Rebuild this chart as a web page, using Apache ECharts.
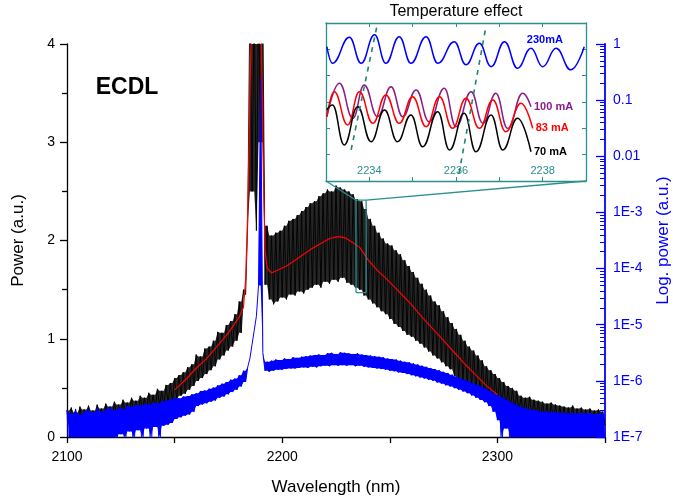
<!DOCTYPE html>
<html>
<head>
<meta charset="utf-8">
<script src="https://cdn.jsdelivr.net/npm/echarts@6/dist/echarts.min.js"></script>
<style>
  html, body { margin: 0; padding: 0; background: #fff; }
  #chart { width: 673px; height: 499px; }
</style>
</head>
<body>
<div id="chart"></div>
<script>
// ECDL emission spectrum: linear power (black, red smoothed) and log power (blue)
const wlStart = 2100, wlStep = 1;

// linear power, 1 nm sampling (fringe peaks / troughs)
const blackPower = [
  0.27,0.13,0.30,0.15,0.25,0.12,0.31,0.16,0.28,0.14,
  0.32,0.17,0.27,0.15,0.33,0.18,0.29,0.16,0.34,0.19,
  0.31,0.17,0.36,0.20,0.33,0.19,0.38,0.22,0.35,0.21,
  0.40,0.23,0.37,0.22,0.42,0.26,0.40,0.25,0.45,0.28,
  0.43,0.27,0.49,0.31,0.47,0.30,0.53,0.34,0.55,0.36,
  0.60,0.38,0.63,0.42,0.66,0.44,0.71,0.48,0.74,0.52,
  0.84,0.57,0.82,0.60,0.90,0.64,0.92,0.68,0.98,0.72,
  1.07,0.79,1.06,0.83,1.14,0.88,1.18,0.92,1.25,0.98,
  1.38,1.06,1.50,1.45,2.20,4.50,2.50,4.50,2.10,4.50,
  3.00,4.50,1.55,2.15,1.40,2.05,1.35,2.08,1.38,2.10,
  1.42,2.15,1.40,2.20,1.45,2.22,1.44,2.26,1.48,2.30,
  1.46,2.34,1.50,2.38,1.52,2.40,1.55,2.45,1.52,2.48,
  1.58,2.52,1.56,2.50,1.60,2.56,1.58,2.54,1.62,2.52,
  1.57,2.50,1.55,2.47,1.52,2.42,1.50,2.40,1.44,2.32,
  1.40,2.22,1.36,2.15,1.32,2.08,1.28,2.02,1.25,1.97,
  1.20,1.95,1.15,1.90,1.12,1.86,1.08,1.80,1.04,1.74,
  1.02,1.68,0.98,1.62,0.95,1.56,0.91,1.50,0.87,1.44,
  0.83,1.38,0.80,1.34,0.76,1.28,0.72,1.22,0.69,1.16,
  0.62,1.10,0.59,1.04,0.56,0.98,0.53,0.92,0.50,0.88,
  0.44,0.83,0.42,0.78,0.40,0.72,0.37,0.68,0.35,0.64,
  0.33,0.60,0.31,0.56,0.29,0.52,0.27,0.50,0.26,0.47,
  0.24,0.42,0.22,0.40,0.21,0.41,0.20,0.38,0.19,0.37,
  0.18,0.36,0.17,0.34,0.18,0.35,0.16,0.33,0.15,0.32,
  0.16,0.31,0.14,0.30,0.15,0.32,0.13,0.29,0.14,0.30,
  0.13,0.28,0.12,0.29,0.14,0.27,0.12,0.28,0.13,0.26,
  0.12
];

// log10 of power, same sampling
const blueLog10 = [
  -6.52,-7.40,-6.58,-7.40,-6.50,-7.40,-6.60,-7.40,-6.54,-7.40,
  -6.50,-7.40,-6.56,-7.40,-6.48,-7.40,-6.55,-7.40,-6.50,-7.40,
  -6.47,-7.40,-6.52,-7.40,-6.46,-6.95,-6.50,-7.40,-6.44,-6.90,
  -6.46,-7.40,-6.42,-6.88,-6.44,-7.40,-6.40,-6.85,-6.42,-7.40,
  -6.38,-6.82,-6.40,-7.40,-6.36,-6.80,-6.35,-6.78,-6.33,-6.75,
  -6.30,-6.68,-6.31,-6.65,-6.28,-6.62,-6.27,-6.60,-6.24,-6.55,
  -6.22,-6.45,-6.18,-6.42,-6.17,-6.40,-6.14,-6.37,-6.12,-6.35,
  -6.08,-6.30,-6.05,-6.28,-6.02,-6.24,-5.98,-6.20,-5.96,-6.16,
  -5.90,-6.10,-5.82,-6.02,-5.75,-5.60,-5.35,-5.10,-4.85,-4.30,
  -0.60,-5.50,-5.82,-5.66,-5.84,-5.64,-5.82,-5.62,-5.80,-5.63,
  -5.80,-5.60,-5.79,-5.61,-5.78,-5.58,-5.78,-5.59,-5.77,-5.57,
  -5.76,-5.56,-5.77,-5.55,-5.75,-5.54,-5.76,-5.53,-5.74,-5.54,
  -5.73,-5.51,-5.74,-5.50,-5.72,-5.52,-5.73,-5.49,-5.72,-5.50,
  -5.73,-5.51,-5.72,-5.52,-5.74,-5.51,-5.73,-5.53,-5.75,-5.54,
  -5.76,-5.55,-5.77,-5.56,-5.78,-5.57,-5.79,-5.58,-5.80,-5.60,
  -5.82,-5.61,-5.83,-5.62,-5.85,-5.64,-5.86,-5.66,-5.88,-5.67,
  -5.90,-5.69,-5.92,-5.71,-5.94,-5.73,-5.96,-5.75,-5.98,-5.77,
  -6.00,-5.79,-6.03,-5.81,-6.05,-5.84,-6.08,-5.86,-6.10,-5.89,
  -6.13,-5.92,-6.16,-5.95,-6.19,-5.98,-6.22,-6.01,-6.26,-6.04,
  -6.30,-6.07,-6.34,-6.10,-6.38,-6.14,-6.45,-6.18,-6.55,-6.22,
  -6.70,-6.26,-7.40,-6.30,-6.85,-6.34,-7.40,-6.38,-7.40,-6.42,
  -7.40,-6.46,-7.40,-6.48,-7.40,-6.50,-7.40,-6.52,-7.40,-6.53,
  -7.40,-6.55,-7.40,-6.54,-7.40,-6.56,-7.40,-6.55,-7.40,-6.57,
  -7.40,-6.56,-7.40,-6.58,-7.40,-6.57,-7.40,-6.58,-7.40,-6.56,
  -7.40,-6.58,-7.40,-6.57,-7.40,-6.59,-7.40,-6.58,-7.40,-6.57,
  -7.40
];

// smoothed linear power
const redWl = [2150,2155,2160,2165,2170,2175,2180,2182,2183,2184,2185,2186,2190,2191,2192,2193,2195,2198,2202,2206,2210,2214,2218,2222,2226,2229,2232,2236,2240,2244,2248,2252,2256,2260,2265,2270,2275,2280,2285,2290,2295,2300];
const redPower = [0.48,0.58,0.70,0.80,0.93,1.06,1.22,1.32,1.60,2.30,3.50,4.50,4.50,3.00,1.90,1.72,1.67,1.70,1.74,1.80,1.86,1.92,1.97,2.02,2.04,2.03,1.99,1.93,1.80,1.70,1.62,1.53,1.44,1.35,1.22,1.10,0.98,0.86,0.74,0.63,0.52,0.43];

// region magnified in the inset
const boxWl = [2234.3, 2239];
const boxPower = [1.47, 2.41];

// inset: fringe extrema for each drive current (relative log power)
const i230Wl  = [2233.02,2233.15,2233.54,2233.81,2234.12,2234.38,2234.69,2234.96,2235.31,2235.58,2235.96,2236.23,2236.54,2236.81,2237.12,2237.42,2237.73,2238.00,2238.31,2238.65,2238.96];
const i230Val = [5.10,4.47,5.46,4.47,5.55,4.47,5.48,4.47,5.48,4.47,5.29,4.41,5.23,4.34,5.29,4.28,5.04,4.34,5.04,4.22,5.10];
const i100Wl  = [2233.02,2233.31,2233.62,2233.88,2234.19,2234.50,2234.77,2235.08,2235.38,2235.73,2236.00,2236.35,2236.62,2236.92,2237.19,2237.54,2237.73];
const i100Val = [2.44,3.71,2.38,3.65,2.44,3.58,2.44,3.46,2.25,3.52,2.06,3.39,2.19,3.33,2.00,3.33,2.82];
const i83Wl   = [2233.02,2233.19,2233.50,2233.77,2234.08,2234.38,2234.69,2235.00,2235.31,2235.62,2235.92,2236.23,2236.54,2236.85,2237.15,2237.50,2237.77];
const i83Val  = [2.44,3.39,2.13,3.39,2.19,3.27,2.19,3.20,2.06,3.20,2.00,3.14,2.00,3.08,1.87,2.95,2.00];
const i70Wl   = [2233.02,2233.15,2233.42,2233.73,2234.04,2234.35,2234.65,2234.96,2235.23,2235.58,2235.85,2236.19,2236.46,2236.81,2237.08,2237.42,2237.73];
const i70Val  = [2.70,2.89,1.37,2.82,1.49,2.70,1.49,2.51,1.30,2.63,1.18,2.57,1.11,2.51,1.18,2.38,1.11];
// fringe shift guides
const shiftA = [[2233.58, 1.18], [2234.18, 5.92]];
const shiftB = [[2236.07, 0.30], [2236.69, 5.85]];

const FONT = "'Liberation Sans', Arial, sans-serif";
const TEAL = '#2b8f8f';
const DASH = '#1f8574';

const wlOf = i => wlStart + i * wlStep;
const blackData = blackPower.map((v, i) => [wlOf(i), v]);
const blueLin = blueLog10.map(v => Math.pow(10, v));
const blueData = blueLin.map((v, i) => [wlOf(i), v]);
const redData = redWl.map((w, i) => [w, redPower[i]]);
const boxData = [
  [boxWl[0], boxPower[0]], [boxWl[1], boxPower[0]], [boxWl[1], boxPower[1]],
  [boxWl[0], boxPower[1]], [boxWl[0], boxPower[0]]
];
const pairs = (xs, ys) => xs.map((x, i) => [x, ys[i]]);

// fringe envelope: each trough is raised to the lower of its two neighbouring
// peaks (and each peak lowered likewise), so isolated spikes stay thin
function envelope(arr) {
  const lo = [], hi = [];
  arr.forEach((v, i) => {
    const a = arr[i - 1] !== undefined ? arr[i - 1] : v;
    const b = arr[i + 1] !== undefined ? arr[i + 1] : v;
    hi.push(Math.max(v, Math.min(a, b)));
    lo.push(Math.min(v, Math.max(a, b)));
  });
  return { lo, hi };
}
const blackEnv = envelope(blackPower);
const blueEnv = envelope(blueLin);

// filled band between the envelopes, drawn through the axes of the main grid
function bandSeries(yIdx, env, range, color, z) {
  const clamp = v => Math.min(range[1], Math.max(range[0], v));
  return {
    type: 'custom', xAxisIndex: 0, yAxisIndex: yIdx, silent: true, z,
    data: [[wlOf(0), clamp(env.hi[0])]],
    renderItem: (params, api) => {
      const pts = [];
      env.hi.forEach((v, i) => pts.push(api.coord([wlOf(i), clamp(v)])));
      for (let i = env.lo.length - 1; i >= 0; i--) pts.push(api.coord([wlOf(i), clamp(env.lo[i])]));
      return { type: 'polygon', shape: { points: pts }, style: { fill: color } };
    }
  };
}

// minor ticks of the log axis, in decades
const minorDecades = [];
for (let e = -7; e < 0; e++) for (let k = 2; k <= 9; k++) minorDecades.push(e + Math.log10(k));

const chart = echarts.init(document.getElementById('chart'), null, { renderer: 'canvas' });

const insetLine = (name, xs, ys, color, label) => ({
  name, type: 'line', xAxisIndex: 1, yAxisIndex: 3,
  data: pairs(xs, ys), smooth: 0.45, smoothMonotone: 'x',
  symbol: 'none', lineStyle: { color, width: 1.5 }, z: 5,
  endLabel: label ? { show: true, formatter: label, color, fontWeight: 'bold',
    fontSize: 11, fontFamily: FONT, distance: 3 } : undefined
});

chart.setOption({
  animation: false,
  backgroundColor: '#fff',
  textStyle: { fontFamily: FONT },
  grid: [
    { left: 67, right: 68, top: 44, bottom: 62, outerBoundsMode: 'none', containLabel: false },
    { left: 326, top: 23, width: 260, height: 158, show: true, outerBoundsMode: 'none',
      backgroundColor: '#fff', borderWidth: 0 }
  ],
  xAxis: [
    { type: 'value', gridIndex: 0, min: 2100, max: 2350, interval: 50,
      name: 'Wavelength (nm)', nameLocation: 'middle', nameGap: 42,
      nameTextStyle: { fontSize: 17, color: '#000', fontFamily: FONT },
      axisLine: { lineStyle: { color: '#000', width: 1.3 } },
      axisTick: { length: 6, lineStyle: { color: '#000', width: 1.3 } },
      axisLabel: { fontSize: 14, color: '#000', margin: 13,
        formatter: v => (v % 100 === 0 ? String(v) : '') },
      splitLine: { show: false } },
    { type: 'value', gridIndex: 1, min: 2233, max: 2239, interval: 1,
      axisLine: { onZero: false, lineStyle: { color: TEAL, width: 1.3 } },
      axisTick: { inside: true, length: 4, lineStyle: { color: TEAL } },
      axisLabel: { inside: true, margin: 5, fontSize: 11, color: TEAL,
        formatter: v => (v % 2 === 0 ? String(v) : '') },
      splitLine: { show: false } },
    { type: 'value', gridIndex: 1, position: 'top', min: 2233, max: 2239, interval: 1,
      axisLine: { onZero: false, lineStyle: { color: TEAL, width: 1.3 } },
      axisTick: { inside: true, length: 4, lineStyle: { color: TEAL } },
      axisLabel: { show: false }, splitLine: { show: false } }
  ],
  yAxis: [
    { type: 'value', gridIndex: 0, min: 0, max: 4, interval: 1,
      name: 'Power (a.u.)', nameLocation: 'middle', nameGap: 40,
      nameTextStyle: { fontSize: 17, color: '#000', fontFamily: FONT },
      axisLine: { show: true, lineStyle: { color: '#000', width: 1.3 } },
      axisTick: { show: true, length: 7, lineStyle: { color: '#000', width: 1.3 } },
      minorTick: { show: true, splitNumber: 2, length: 5, lineStyle: { color: '#000', width: 1.3 } },
      axisLabel: { fontSize: 14, color: '#000', margin: 12 },
      splitLine: { show: false } },
    { type: 'log', logBase: 10, gridIndex: 0, position: 'right', min: 1e-7, max: 1, splitNumber: 7,
      name: 'Log. power (a.u.)', nameLocation: 'middle', nameGap: 50,
      nameTextStyle: { fontSize: 17, color: '#0000ff', fontFamily: FONT },
      axisLine: { show: true, lineStyle: { color: '#0000ff', width: 1.8 } },
      axisTick: { show: true, inside: true, length: 9, lineStyle: { color: '#0000ff', width: 1.3 } },
      axisLabel: { fontSize: 14, color: '#0000ff', margin: 8,
        formatter: v => { const e = Math.round(Math.log10(v));
          return e >= -2 ? String(+v.toPrecision(1)) : '1E' + e; } },
      splitLine: { show: false } },
    { type: 'value', gridIndex: 0, position: 'right', min: -7, max: 0,
      axisLine: { show: false },
      axisTick: { show: true, inside: true, length: 5, customValues: minorDecades,
        lineStyle: { color: '#0000ff', width: 1 } },
      axisLabel: { show: false }, splitLine: { show: false } },
    { type: 'value', gridIndex: 1, min: 0, max: 6, interval: 1,
      axisLine: { show: true, onZero: false, lineStyle: { color: TEAL, width: 1.3 } },
      axisTick: { show: true, inside: true, length: 4, lineStyle: { color: TEAL } },
      axisLabel: { show: false }, splitLine: { show: false } },
    { type: 'value', gridIndex: 1, position: 'right', min: 0, max: 6, interval: 1,
      axisLine: { show: true, onZero: false, lineStyle: { color: TEAL, width: 1.3 } },
      axisTick: { show: true, inside: true, length: 4, lineStyle: { color: TEAL } },
      axisLabel: { show: false }, splitLine: { show: false } }
  ],
  series: [
    bandSeries(0, blackEnv, [0, 4], '#262626', 1),
    { name: 'power', type: 'line', xAxisIndex: 0, yAxisIndex: 0, data: blackData,
      symbol: 'none', sampling: null, lineStyle: { color: '#000', width: 0.9 }, z: 2 },
    bandSeries(1, blueEnv, [1e-7, 1], '#0000ff', 3),
    { name: 'log power', type: 'line', xAxisIndex: 0, yAxisIndex: 1, data: blueData,
      symbol: 'none', lineStyle: { color: '#0000ff', width: 1 }, z: 3 },
    { name: 'smoothed', type: 'line', xAxisIndex: 0, yAxisIndex: 0, data: redData,
      symbol: 'none', lineStyle: { color: '#ff0000', width: 1.2 }, z: 4 },
    { name: 'zoom box', type: 'line', xAxisIndex: 0, yAxisIndex: 0, data: boxData,
      symbol: 'none', lineStyle: { color: TEAL, width: 1.3 }, z: 6 },
    insetLine('230mA', i230Wl, i230Val, '#0000ff', null),
    insetLine('100 mA', i100Wl, i100Val, '#8b1a8b', '100 mA'),
    insetLine('83 mA', i83Wl, i83Val, '#ff0000', '83 mA'),
    insetLine('70 mA', i70Wl, i70Val, '#000000', '70 mA'),
    { type: 'line', xAxisIndex: 1, yAxisIndex: 3, data: shiftA, symbol: 'none',
      lineStyle: { color: DASH, width: 1.6, type: [5, 5] }, z: 6 },
    { type: 'line', xAxisIndex: 1, yAxisIndex: 3, data: shiftB, symbol: 'none',
      lineStyle: { color: DASH, width: 1.6, type: [5, 5] }, z: 6 }
  ]
});

// connectors from the zoom box to the inset frame, plus free text
const mainPx = p => chart.convertToPixel({ xAxisIndex: 0, yAxisIndex: 0 }, p);
const insetPx = p => chart.convertToPixel({ xAxisIndex: 1, yAxisIndex: 3 }, p);
const bl = insetPx([2233, 0]), br = insetPx([2239, 0]);
const tl = mainPx([boxWl[0], boxPower[1]]), tr = mainPx([boxWl[1], boxPower[1]]);
const lbl = insetPx([2238.05, 5.35]);

chart.setOption({
  graphic: [
    { type: 'line', shape: { x1: bl[0], y1: bl[1], x2: tl[0], y2: tl[1] },
      style: { stroke: TEAL, lineWidth: 1.3 }, z: 10 },
    { type: 'line', shape: { x1: br[0], y1: br[1], x2: tr[0], y2: tr[1] },
      style: { stroke: TEAL, lineWidth: 1.3 }, z: 10 },
    { type: 'text', x: (bl[0] + br[0]) / 2, y: 12, z: 10,
      style: { text: 'Temperature effect', fontSize: 16, fontFamily: FONT, fill: '#000',
        align: 'center', verticalAlign: 'middle' } },
    { type: 'text', x: lbl[0], y: lbl[1], z: 10,
      style: { text: '230mA', fontSize: 11, fontWeight: 'bold', fontFamily: FONT, fill: '#0000ff',
        align: 'center', verticalAlign: 'middle' } },
    { type: 'text', x: 127, y: 88, z: 10,
      style: { text: 'ECDL', fontSize: 23, fontWeight: 'bold', fontFamily: FONT, fill: '#000',
        align: 'center', verticalAlign: 'middle' } }
  ]
});
</script>
</body>
</html>
